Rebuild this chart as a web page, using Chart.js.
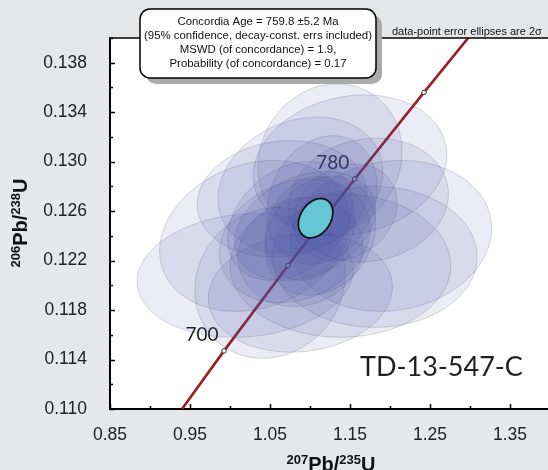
<!DOCTYPE html>
<html>
<head>
<meta charset="utf-8">
<script src="https://cdn.jsdelivr.net/npm/chart.js@4.4.1/dist/chart.umd.min.js"></script>
<style>
html, body { margin:0; padding:0; background:#e6e7e9; overflow:hidden; }
#chart { display:block; }
</style>
</head>
<body>
<canvas id="chart" width="558" height="470"></canvas>
<script>
// concordia curve (207Pb/235U , 206Pb/238U)
var concX = [0.940, 0.9925, 1.0726, 1.1559, 1.2425, 1.2977];
var concY = [0.1100, 0.1147, 0.1216, 0.1286, 0.1356, 0.1400];

// age marks on the curve (Ma), only some are labelled
var ageNames = ['700', '740', '780', '820'];
var ageX = [0.9925, 1.0726, 1.1559, 1.2425];
var ageY = [0.1147, 0.1216, 0.1286, 0.1356];
var ageShown = [true, false, true, false];

// data-point error ellipses (2 sigma): centre, half-widths, correlation
var ellX   = [1.150, 1.125, 1.088, 1.201, 1.181, 1.138, 1.050, 1.019, 1.031, 1.075, 1.100, 1.115, 1.088, 1.144, 1.065, 1.173, 1.088, 1.094, 1.113, 1.081];
var ellY   = [0.1297, 0.1302, 0.1281, 0.1240, 0.1223, 0.1216, 0.1202, 0.1208, 0.1240, 0.1252, 0.1246, 0.1269, 0.1227, 0.1259, 0.1270, 0.1269, 0.1194, 0.1248, 0.1240, 0.1236];
var ellSx  = [0.121, 0.090, 0.103, 0.126, 0.128, 0.138, 0.094, 0.135, 0.119, 0.078, 0.056, 0.069, 0.078, 0.065, 0.106, 0.100, 0.115, 0.088, 0.069, 0.094];
var ellSy  = [0.0057, 0.0061, 0.0055, 0.0061, 0.0057, 0.0058, 0.0061, 0.0050, 0.0061, 0.0048, 0.0042, 0.0052, 0.0044, 0.0039, 0.0047, 0.0050, 0.0048, 0.0044, 0.0048, 0.0050];
var ellRho = [0.15, 0.10, 0.20, 0.10, 0.00, 0.00, 0.10, 0.10, 0.20, 0.30, 0.20, 0.20, 0.10, 0.20, 0.10, 0.10, 0.10, 0.30, 0.20, 0.20];

// concordia age ellipse
var ageEll = { x: 1.107, y: 0.12543, sx: 0.0215, sy: 0.00159, rho: 0.3 };

var sampleName = 'TD-13-547-C';
var infoLines = ['Concordia Age = 759.8 \u00b15.2 Ma',
                 '(95% confidence, decay-const. errs included)',
                 'MSWD (of concordance) = 1.9,',
                 'Probability (of concordance) = 0.17'];
var noteText = 'data-point error ellipses are 2\u03c3';

var police = '"Liberation Sans", Arial, sans-serif';

function traceEllipse(ctx, xs, ys, cx, cy, sx, sy, rho){
    var r2 = Math.sqrt(1 - rho*rho);
    ctx.beginPath();
    for(var k=0;k<=90;k++){
        var t = k/90*2*Math.PI;
        var px = xs.getPixelForValue(cx + sx*Math.cos(t));
        var py = ys.getPixelForValue(cy + sy*(rho*Math.cos(t) + r2*Math.sin(t)));
        if(k===0) ctx.moveTo(px,py); else ctx.lineTo(px,py);
    }
    ctx.closePath();
}

var fondBlanc = {
    id: 'fondBlanc',
    beforeDraw: function(chart){
        var a = chart.chartArea, ctx = chart.ctx;
        ctx.save();
        ctx.fillStyle = '#ffffff';
        ctx.fillRect(a.left, a.top, a.right-a.left, a.bottom-a.top);
        ctx.restore();
    }
};

var ellipses = {
    id: 'ellipses',
    afterDatasetsDraw: function(chart){
        var ctx = chart.ctx, xs = chart.scales.x, ys = chart.scales.y, a = chart.chartArea;
        ctx.save();
        ctx.beginPath(); ctx.rect(a.left, a.top, a.right-a.left, a.bottom-a.top); ctx.clip();
        // age labels sit under the ellipses
        ctx.font = '19px Lato, ' + police;
        ctx.fillStyle = '#1b1b1b';
        ctx.textAlign = 'center'; ctx.textBaseline = 'middle';
        for(var i=0;i<ageNames.length;i++){
            if(!ageShown[i]) continue;
            ctx.fillText(ageNames[i], xs.getPixelForValue(ageX[i]) - 22, ys.getPixelForValue(ageY[i]) - 16);
        }
        ctx.lineWidth = 1;
        for(var j=0;j<ellX.length;j++){
            traceEllipse(ctx, xs, ys, ellX[j], ellY[j], ellSx[j], ellSy[j], ellRho[j]);
            ctx.fillStyle = 'rgba(70,85,160,0.11)';
            ctx.fill();
            ctx.strokeStyle = 'rgba(70,70,95,0.2)';
            ctx.stroke();
        }
        traceEllipse(ctx, xs, ys, ageEll.x, ageEll.y, ageEll.sx, ageEll.sy, ageEll.rho);
        ctx.fillStyle = '#66c6d6';
        ctx.fill();
        ctx.lineWidth = 1.8;
        ctx.strokeStyle = '#111';
        ctx.stroke();
        ctx.restore();
    }
};

function roundRect(ctx, x, y, w, h, r){
    ctx.beginPath();
    ctx.moveTo(x+r, y);
    ctx.arcTo(x+w, y, x+w, y+h, r);
    ctx.arcTo(x+w, y+h, x, y+h, r);
    ctx.arcTo(x, y+h, x, y, r);
    ctx.arcTo(x, y, x+w, y, r);
    ctx.closePath();
}

function texteMixte(ctx, parts, cx, cy){
    // parts: [text, size]
    var total = 0;
    parts.forEach(function(p){ ctx.font = 'bold ' + p[1] + 'px ' + police; total += ctx.measureText(p[0]).width; });
    var x = cx - total/2;
    parts.forEach(function(p){
        ctx.font = 'bold ' + p[1] + 'px ' + police;
        ctx.fillText(p[0], x, cy + (p[1] < 16 ? -5 : 0));
        x += ctx.measureText(p[0]).width;
    });
}

var habillage = {
    id: 'habillage',
    afterDraw: function(chart){
        var ctx = chart.ctx, xs = chart.scales.x, ys = chart.scales.y, a = chart.chartArea;
        ctx.save();
        // inward tick marks
        ctx.strokeStyle = '#000'; ctx.lineWidth = 1.5;
        xs.ticks.forEach(function(t, i){
            var px = Math.round(xs.getPixelForValue(t.value)) + 0.5;
            var len = (i % 2 === 0) ? 5 : 3;
            ctx.beginPath(); ctx.moveTo(px, a.bottom); ctx.lineTo(px, a.bottom - len); ctx.stroke();
        });
        ys.ticks.forEach(function(t, i){
            var py = Math.round(ys.getPixelForValue(t.value)) + 0.5;
            var len = (i % 2 === 0) ? 5 : 3;
            ctx.beginPath(); ctx.moveTo(a.left, py); ctx.lineTo(a.left + len, py); ctx.stroke();
        });
        // top frame line
        ctx.lineWidth = 1.5;
        ctx.beginPath(); ctx.moveTo(a.left, a.top); ctx.lineTo(a.right, a.top); ctx.stroke();

        // sample name
        ctx.fillStyle = '#231f20';
        ctx.font = '27px Lato, ' + police;
        ctx.textAlign = 'left'; ctx.textBaseline = 'middle';
        ctx.fillText(sampleName, 360, 367);

        // note above frame
        ctx.font = '11px ' + police;
        ctx.fillStyle = '#111';
        ctx.textBaseline = 'alphabetic';
        ctx.fillText(noteText, 392, 35);

        // info box with shadow
        ctx.fillStyle = '#aaaaaa';
        roundRect(ctx, 146, 15, 236, 69, 10); ctx.fill();
        ctx.fillStyle = '#ffffff';
        roundRect(ctx, 140, 9, 236, 69, 10); ctx.fill();
        ctx.lineWidth = 1.5; ctx.strokeStyle = '#000';
        ctx.stroke();
        ctx.fillStyle = '#111';
        ctx.font = '11.4px ' + police;
        ctx.textAlign = 'center'; ctx.textBaseline = 'middle';
        for(var i=0;i<infoLines.length;i++){
            ctx.fillText(infoLines[i], 258, 22 + i*14);
        }

        // axis titles
        ctx.fillStyle = '#111';
        ctx.textAlign = 'left'; ctx.textBaseline = 'middle';
        texteMixte(ctx, [['207',13],['Pb/',20],['235',13],['U',20]], 331, 465);
        ctx.translate(21, 223);
        ctx.rotate(-Math.PI/2);
        texteMixte(ctx, [['206',13],['Pb/',20],['238',13],['U',20]], 0, 0);
        ctx.restore();
    }
};

var points = [];
for(var i=0;i<concX.length;i++) points.push({x: concX[i], y: concY[i]});
var marques = [];
for(var i=0;i<ageX.length;i++) marques.push({x: ageX[i], y: ageY[i]});

new Chart(document.getElementById('chart'), {
    type: 'scatter',
    data: {
        datasets: [{
            type: 'line',
            data: points,
            borderColor: '#9c1c22',
            borderWidth: 2.6,
            pointRadius: 0,
            tension: 0,
            order: 2
        }, {
            data: marques,
            pointRadius: 2.3,
            pointBackgroundColor: '#ffffff',
            pointBorderColor: '#333',
            pointBorderWidth: 1,
            order: 1
        }]
    },
    options: {
        responsive: false,
        animation: false,
        events: [],
        layout: { padding: { top: 38, left: 0, right: 0, bottom: 0 } },
        plugins: { legend: { display: false }, tooltip: { enabled: false } },
        scales: {
            x: {
                type: 'linear', min: 0.85, max: 1.40,
                afterFit: function(s){ s.height = 61; },
                grid: { display: false },
                border: { display: true, color: '#000', width: 2 },
                ticks: {
                    stepSize: 0.05, autoSkip: false, maxRotation: 0, padding: 8,
                    color: '#222', font: { family: police, size: 17.5 },
                    callback: function(v, i){ return i % 2 === 0 ? v.toFixed(2) : ''; }
                }
            },
            y: {
                type: 'linear', min: 0.110, max: 0.140,
                afterFit: function(s){ s.width = 110; },
                grid: { display: false },
                border: { display: true, color: '#000', width: 2 },
                ticks: {
                    stepSize: 0.002, autoSkip: false, padding: 15,
                    color: '#222', font: { family: police, size: 17.5 },
                    callback: function(v, i){ return i % 2 === 0 ? v.toFixed(3) : ''; }
                }
            }
        }
    },
    plugins: [fondBlanc, ellipses, habillage]
});
</script>
</body>
</html>
